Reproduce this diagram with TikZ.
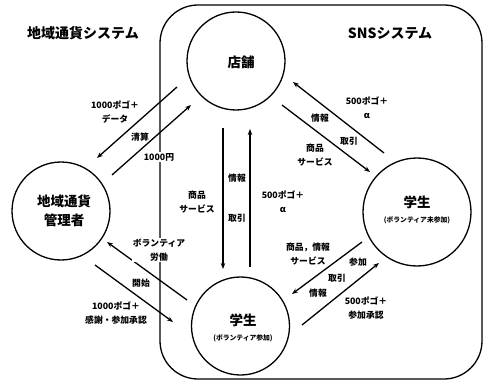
\documentclass[tikz,border=0pt]{standalone}
\usepackage{fontspec}
\setmainfont{Noto Sans CJK JP}
\usetikzlibrary{arrows.meta}
\tikzset{
  circ/.style={draw, circle, line width=1.3pt, inner sep=0pt},
  lbl/.style={font=\bfseries\fontsize{8.8}{14}\selectfont, align=center, inner sep=1pt},
  wlbl/.style={lbl, fill=white},
  ttl/.style={font=\bfseries\fontsize{14}{16}\selectfont},
  ctxt/.style={font=\bfseries\fontsize{13.5}{19}\selectfont, align=center},
  stxt/.style={font=\bfseries\fontsize{6.8}{8}\selectfont},
  arr/.style={line width=1.3pt, -{Stealth[length=6pt,width=4.5pt]}},
  frame/.style={draw, line width=1.3pt, rounded corners=38pt}
}
\begin{document}
\begin{tikzpicture}[x=1pt,y=-1pt]
\useasboundingbox (0,0) rectangle (484,382);
% SNS system frame
\draw[frame] (160,5) rectangle (482,379);
% circles
\node[circ, minimum size=98pt] (store) at (236,61) {};
\node[circ, minimum size=98pt] (mgr) at (61,211) {};
\node[circ, minimum size=98pt] (stud) at (240.5,326) {};
\node[circ, minimum size=108pt] (studn) at (417,212) {};
% circle texts
\node[ctxt] (storet) at (241,62) {店舗};
\node[ctxt] (mgrt) at (64,211) {地域通貨\\管理者};
\node[ctxt] (studt) at (243,320) {学生};
\node[stxt] (studs) at (243,338) {(ボランティア参加)};
\node[ctxt] (studnt) at (417,202) {学生};
\node[stxt] (studns) at (417,220) {(ボランティア未参加)};
% titles
\node[ttl] (t1) at (83,33) {地域通貨システム};
\node[ttl] (t2) at (390,33) {SNSシステム};
% arrow end points
\coordinate (a1s) at (177,87);  \coordinate (a1e) at (97,158);
\coordinate (a2s) at (112,175); \coordinate (a2e) at (191,105);
\coordinate (a3s) at (187,300); \coordinate (a3e) at (107,242);
\coordinate (a4s) at (95,265);  \coordinate (a4e) at (173,322);
\coordinate (a5s) at (223,128); \coordinate (a5e) at (223,269);
\coordinate (a6s) at (250,267); \coordinate (a6e) at (250,129);
\coordinate (a7s) at (384,153); \coordinate (a7e) at (293,82);
\coordinate (a8s) at (282,105); \coordinate (a8e) at (370,172);
\coordinate (a9s) at (362,242); \coordinate (a9e) at (292,294);
\coordinate (a10s) at (302,325); \coordinate (a10e) at (379,263);
\draw[arr] (a1s) -- (a1e);
\draw[arr] (a2s) -- (a2e);
\draw[arr] (a3s) -- (a3e);
\draw[arr] (a4s) -- (a4e);
\draw[arr] (a5s) -- (a5e);
\draw[arr] (a6s) -- (a6e);
\draw[arr] (a7s) -- (a7e);
\draw[arr] (a8s) -- (a8e);
\draw[arr] (a9s) -- (a9e);
\draw[arr] (a10s) -- (a10e);
% labels: store <-> manager
\node[lbl] (l1) at (115,112) {1000ポゴ＋\\データ};
\node[lbl] (l2) at (140,137) {清算};
\node[wlbl] (l3) at (159,157) {1000円};
% manager <-> student
\node[wlbl] (l4) at (159,250) {ボランティア\\労働};
\node[lbl] (l5) at (141,283) {開始};
\node[lbl] (l6) at (116,313) {1000ポゴ＋\\感謝・参加承認};
% store <-> student
\node[lbl] (l7) at (197,202) {商品\\サービス};
\node[lbl] (l8) at (237,178) {情報};
\node[lbl] (l9) at (237,218) {取引};
\node[lbl] (l10) at (283,202) {500ポゴ＋\\{\itshape α}};
% store <-> student (non)
\node[lbl] (l11) at (320,118) {情報};
\node[lbl] (l12) at (349,141) {取引};
\node[lbl] (l13) at (315,155) {商品\\サービス};
\node[lbl] (l14) at (367,108) {500ポゴ＋\\{\itshape α}};
% student <-> student (non)
\node[lbl] (l15) at (308,254) {商品，情報\\サービス};
\node[lbl] (l16) at (358,262) {参加};
\node[lbl] (l17) at (337,278) {取引};
\node[lbl] (l18) at (318,293) {情報};
\node[lbl] (l19) at (366,308) {500ポゴ＋\\参加承認};
\end{tikzpicture}
\end{document}
